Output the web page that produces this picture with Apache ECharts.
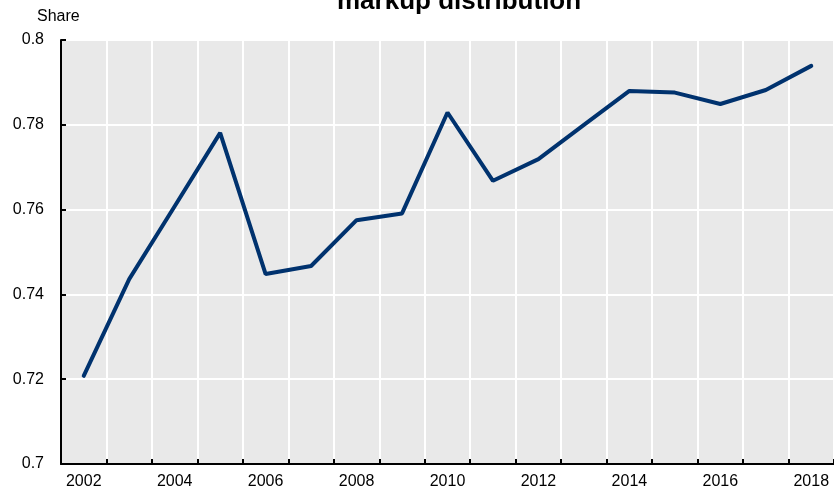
<!DOCTYPE html>
<html>
<head>
<meta charset="utf-8">
<script src="https://cdn.jsdelivr.net/npm/echarts@6/dist/echarts.min.js"></script>
<style>
  html, body { margin: 0; padding: 0; background: #fff; }
  #chart { width: 834px; height: 493px; }
</style>
</head>
<body>
<div id="chart"></div>
<script>
// years on the x axis
const years = ["2002", "2003", "2004", "2005", "2006", "2007", "2008", "2009", "2010",
  "2011", "2012", "2013", "2014", "2015", "2016", "2017", "2018"];
// share values
const shareValues = [0.7208, 0.7436, 0.7608, 0.7781, 0.7448, 0.7467, 0.7575, 0.7591, 0.7829,
  0.7668, 0.7719, 0.7800, 0.7880, 0.7876, 0.7849, 0.7882, 0.7939];
const titleText = "markup distribution";
const yName = "Share";

const font = "Liberation Sans, Arial, sans-serif";
const chart = echarts.init(document.getElementById("chart"));

chart.setOption({
  animation: false,
  backgroundColor: "#fff",
  title: {
    text: titleText,
    left: 337,
    top: -11,
    padding: 0,
    textStyle: { fontFamily: font, fontSize: 26, fontWeight: "bold", color: "#000" }
  },
  graphic: [{
    type: "text",
    left: 37,
    top: 9,
    style: { text: yName, fontFamily: font, fontSize: 16, fill: "#000" }
  }],
  grid: {
    left: 61,
    top: 40,
    width: 776,
    bottom: 29,
    show: true,
    backgroundColor: "#e9e9e9",
    borderWidth: 0
  },
  xAxis: {
    type: "category",
    data: years,
    boundaryGap: true,
    axisLine: { lineStyle: { color: "#000", width: 2 } },
    axisTick: { show: true, inside: true, length: 5, interval: 0, lineStyle: { color: "#000", width: 2 } },
    axisLabel: { interval: 1, color: "#000", fontFamily: font, fontSize: 16, margin: 10 },
    splitLine: { show: true, interval: 0, lineStyle: { color: "#fff", width: 2 } }
  },
  yAxis: {
    type: "value",
    min: 0.7,
    max: 0.8,
    interval: 0.02,
    axisLine: { show: true, lineStyle: { color: "#000", width: 2 } },
    axisTick: { show: true, inside: true, length: 5, lineStyle: { color: "#000", width: 2 } },
    axisLabel: { color: "#000", fontFamily: font, fontSize: 16, margin: 17 },
    splitLine: { show: true, lineStyle: { color: "#fff", width: 2 } }
  },
  series: [{
    type: "line",
    data: shareValues,
    symbol: "none",
    lineStyle: { color: "#00326e", width: 4, cap: "round" }
  }]
});
</script>
</body>
</html>
